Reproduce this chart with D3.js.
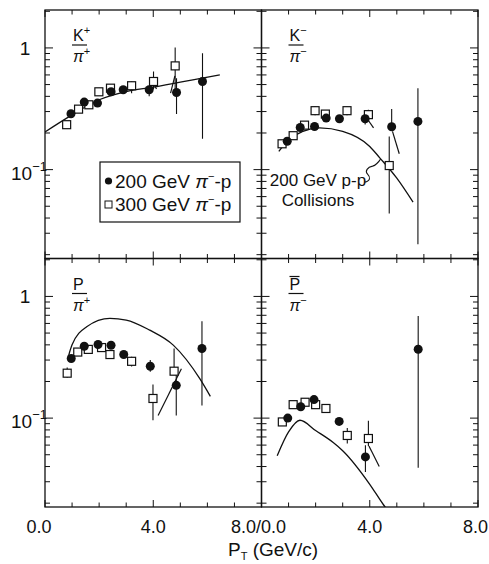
<!DOCTYPE html>
<html>
<head>
<meta charset="utf-8">
<script src="https://cdn.jsdelivr.net/npm/d3@7"></script>
<style>
  body { margin: 0; background: #fff; }
  svg { display: block; }
  text { font-family: "Liberation Sans", "Helvetica", sans-serif; fill: #111; }
</style>
</head>
<body>
<svg id="chart" width="489" height="564"></svg>
<script>
// data: [pT, ratio, errLow, errHigh]
const kPlusCircles = [[0.96,0.288],[1.45,0.359],[1.94,0.352],[2.44,0.436],[2.89,0.453],
  [3.85,0.453,0.40,0.49],[4.86,0.43,0.286,0.564],[5.82,0.53,0.179,0.904]];
const kPlusSquares = [[0.80,0.234],[1.24,0.314],[1.62,0.341],[1.99,0.436],[2.42,0.467],
  [3.20,0.489,0.425,0.53],[4.01,0.53,0.458,0.64],[4.81,0.712,0.438,1.006]];
const kPlusCurve = [[0,0.204],[1,0.282],[2,0.375],[3,0.438],[4,0.476],[5,0.523],[6.46,0.60]];
const kPlusSlashes = [[4.64,0.425,4.80,0.589],[3.95,0.54,4.12,0.46]];

const kMinusCircles = [[0.95,0.171],[1.43,0.222],[1.96,0.226],[2.39,0.265],[2.88,0.262],
  [3.83,0.262,0.235,0.30],[4.81,0.225,0.215,0.315],[5.78,0.249,0.0243,0.467]];
const kMinusSquares = [[0.76,0.163],[1.17,0.190],[1.59,0.232],[1.98,0.305,0.28,0.33],[2.36,0.286],
  [3.16,0.305,0.28,0.33],[3.95,0.283,0.25,0.31],[4.72,0.108,0.0436,0.187]];
const kMinusCurve = [[0.64,0.141],[1,0.176],[1.5,0.205],[2.15,0.22],[3,0.206],[4,0.155],[4.37,0.125],[5,0.085],[5.6,0.054]];
const kMinusSlashes = [[3.93,0.257,4.14,0.22],[4.84,0.206,5.09,0.135]];

const pCircles = [[0.97,0.309],[1.45,0.390],[1.96,0.403],[2.44,0.397],[2.91,0.333],
  [3.89,0.267,0.24,0.30],[4.85,0.186,0.105,0.255],[5.80,0.373,0.127,0.626]];
const pSquares = [[0.82,0.234,0.215,0.26],[1.21,0.349],[1.60,0.367],[2.09,0.38],[2.40,0.333],
  [3.20,0.293,0.265,0.32],[3.99,0.145,0.096,0.189],[4.77,0.243,0.243,0.373]];
const pCurve = [[0.86,0.319],[1.0,0.40],[1.54,0.563],[2.4,0.659],[3.0,0.64],[3.87,0.528],[4.74,0.398],[5.72,0.211],[6.11,0.151]];
const pSlashes = [[4.18,0.105,5.04,0.255]];

const pbarCircles = [[0.97,0.100],[1.45,0.124],[1.94,0.142,0.132,0.152],[2.87,0.094,0.088,0.10],
  [3.84,0.048,0.036,0.0597],[5.79,0.368,0.039,0.689]];
const pbarSquares = [[0.77,0.093],[1.17,0.129],[1.61,0.135],[2.0,0.129],[2.38,0.120],
  [3.17,0.072,0.062,0.083],[3.95,0.068,0.059,0.095]];
const pbarCurve = [[0.58,0.049],[1.0,0.077],[1.42,0.096],[2.0,0.079],[2.65,0.063],[3.0,0.054],[4.0,0.0286],[4.5,0.0195],[4.7,0.017]];
const pbarSlashes = [[3.97,0.059,4.35,0.040]];

const xDomain = [0, 8];
const yDomain = [0.0186, 2.05];
const legendLabels = ['200 GeV', '300 GeV'];

const panels = [
  {col: 0, row: 0, num: 'K', numSup: '+', den: '\u03c0', denSup: '+', circles: kPlusCircles, squares: kPlusSquares, curve: kPlusCurve, slashes: kPlusSlashes},
  {col: 1, row: 0, num: 'K', numSup: '\u2212', den: '\u03c0', denSup: '\u2212', circles: kMinusCircles, squares: kMinusSquares, curve: kMinusCurve, slashes: kMinusSlashes},
  {col: 0, row: 1, num: 'P', numSup: '', den: '\u03c0', denSup: '+', circles: pCircles, squares: pSquares, curve: pCurve, slashes: pSlashes},
  {col: 1, row: 1, num: 'P', numSup: '', bar: true, den: '\u03c0', denSup: '\u2212', circles: pbarCircles, squares: pbarSquares, curve: pbarCurve, slashes: pbarSlashes},
];

// layout
const colX = [45, 261.5];
const rowY = [10, 258.5];
const panelW = 216.5;
const panelH = 248.5;

const svg = d3.select('#chart');
svg.append('rect').attr('width', 489).attr('height', 564).attr('fill', '#fff');

panels.forEach((p, i) => {
  const x0 = colX[p.col], y0 = rowY[p.row];
  const x = d3.scaleLinear().domain(xDomain).range([x0, x0 + panelW]);
  const y = d3.scaleLog().domain(yDomain).range([y0 + panelH, y0]);
  const g = svg.append('g');

  g.append('clipPath').attr('id', 'clip' + i)
    .append('rect').attr('x', x0).attr('y', y0).attr('width', panelW).attr('height', panelH);

  // frame
  g.append('rect').attr('x', x0).attr('y', y0).attr('width', panelW).attr('height', panelH)
    .attr('fill', 'none').attr('stroke', '#111').attr('stroke-width', 1.3);

  // ticks, all pointing inward
  const xt = d3.range(0, 9);
  const major = v => v % 4 === 0;
  const yt = y.ticks();
  const isDecade = v => Math.abs(Math.log10(v) - Math.round(Math.log10(v))) < 1e-6;
  const tg = g.append('g').attr('stroke', '#111').attr('stroke-width', 1);
  xt.forEach(v => {
    const len = major(v) ? 7 : 4.5;
    tg.append('line').attr('x1', x(v)).attr('x2', x(v)).attr('y1', y0 + panelH).attr('y2', y0 + panelH - len);
    tg.append('line').attr('x1', x(v)).attr('x2', x(v)).attr('y1', y0).attr('y2', y0 + len);
  });
  yt.forEach(v => {
    const len = isDecade(v) ? 8 : 5;
    tg.append('line').attr('x1', x0).attr('x2', x0 + len).attr('y1', y(v)).attr('y2', y(v));
    tg.append('line').attr('x1', x0 + panelW).attr('x2', x0 + panelW - len).attr('y1', y(v)).attr('y2', y(v));
  });

  // y labels on the left column only
  if (p.col === 0) {
    g.append('text').attr('x', 25).attr('y', y(1) + 7).attr('text-anchor', 'middle')
      .attr('font-size', 19).text('1');
    const t = g.append('text').attr('x', 11).attr('y', y(0.1) + 10).attr('font-size', 19);
    t.append('tspan').text('10');
    t.append('tspan').attr('dy', -9).attr('font-size', 13).text('\u22121');
  }

  const plot = g.append('g').attr('clip-path', `url(#clip${i})`);

  // curve
  plot.append('path')
    .datum(p.curve)
    .attr('d', d3.line().x(d => x(d[0])).y(d => y(d[1])).curve(d3.curveMonotoneX))
    .attr('fill', 'none').attr('stroke', '#111').attr('stroke-width', 1.3);

  // slash marks
  plot.selectAll('.slash').data(p.slashes).join('line')
    .attr('x1', d => x(d[0])).attr('y1', d => y(d[1]))
    .attr('x2', d => x(d[2])).attr('y2', d => y(d[3]))
    .attr('stroke', '#111').attr('stroke-width', 1.2);

  // error bars
  const withErr = p.circles.concat(p.squares).filter(d => d.length > 2);
  plot.selectAll('.err').data(withErr).join('line')
    .attr('x1', d => x(d[0])).attr('x2', d => x(d[0]))
    .attr('y1', d => y(d[2])).attr('y2', d => y(d[3]))
    .attr('stroke', '#111').attr('stroke-width', 1.1);

  // markers
  plot.selectAll('.sq').data(p.squares).join('rect')
    .attr('x', d => x(d[0]) - 4).attr('y', d => y(d[1]) - 4)
    .attr('width', 8).attr('height', 8)
    .attr('fill', '#fff').attr('stroke', '#111').attr('stroke-width', 1.2);
  plot.selectAll('.ci').data(p.circles).join('circle')
    .attr('cx', d => x(d[0])).attr('cy', d => y(d[1])).attr('r', 4.5)
    .attr('fill', '#111');

  // panel label as a fraction
  const lx = x0 + 28, ly = y0;
  const num = g.append('text').attr('x', lx).attr('y', ly + 31).attr('font-size', 16);
  num.append('tspan').text(p.num);
  if (p.numSup) num.append('tspan').attr('dy', -7).attr('font-size', 11).text(p.numSup);
  if (p.bar) {
    g.append('line').attr('x1', lx).attr('x2', lx + 10).attr('y1', ly + 18).attr('y2', ly + 18)
      .attr('stroke', '#111').attr('stroke-width', 1.2);
  }
  g.append('line').attr('x1', lx - 1).attr('x2', lx + 14).attr('y1', ly + 35).attr('y2', ly + 35)
    .attr('stroke', '#111').attr('stroke-width', 1.2);
  const den = g.append('text').attr('x', lx).attr('y', ly + 52).attr('font-size', 16)
    .attr('font-style', 'italic');
  den.append('tspan').text(p.den);
  den.append('tspan').attr('dy', -7).attr('font-size', 11).attr('font-style', 'normal').text(p.denSup);

  // legend in the first panel
  if (i === 0) {
    const lg = g.append('g');
    lg.append('rect').attr('x', 100).attr('y', 162).attr('width', 140).attr('height', 60)
      .attr('fill', '#fff').attr('stroke', '#111').attr('stroke-width', 1.2);
    lg.append('circle').attr('cx', 108.5).attr('cy', 181).attr('r', 3.6).attr('fill', '#111');
    lg.append('rect').attr('x', 105).attr('y', 201).attr('width', 7).attr('height', 7)
      .attr('fill', '#fff').attr('stroke', '#111').attr('stroke-width', 1);
    legendLabels.forEach((l, k) => {
      const t = lg.append('text').attr('x', 115).attr('y', 188 + k * 23).attr('font-size', 19);
      t.append('tspan').text(l + ' ');
      t.append('tspan').attr('font-style', 'italic').text('\u03c0');
      t.append('tspan').attr('dy', -8).attr('font-size', 11).text('\u2212');
      t.append('tspan').attr('dy', 8).text('-p');
    });
  }

  // annotation in the K-/pi- panel
  if (i === 1) {
    g.append('text').attr('x', 318).attr('y', 186).attr('text-anchor', 'middle')
      .attr('font-size', 17).text('200 GeV p-p');
    g.append('text').attr('x', 318).attr('y', 206).attr('text-anchor', 'middle')
      .attr('font-size', 17).text('Collisions');
    const ex = x(4.4), ey = y(0.122);
    g.append('path')
      .attr('d', `M${ex - 16},${ey + 23} c6,-1 6,-5 3,-8 c-3,-3 0,-7 5,-8 c4,-1 6,-4 8,-7`)
      .attr('fill', 'none').attr('stroke', '#111').attr('stroke-width', 1.1);
  }
});

// x tick labels under the bottom row
const xLabelY = 533;
const xl = d3.scaleLinear().domain(xDomain).range([colX[0], colX[0] + panelW]);
const xr = d3.scaleLinear().domain(xDomain).range([colX[1], colX[1] + panelW]);
const xLabels = [
  {x: xl(0) - 6, t: '0.0'}, {x: xl(4), t: '4.0'}, {x: xl(8) - 3, t: '8.0/0.0'},
  {x: xr(4), t: '4.0'}, {x: xr(8) - 2.5, t: '8.0'}
];
svg.selectAll('.xlab').data(xLabels).join('text')
  .attr('x', d => d.x).attr('y', xLabelY).attr('text-anchor', 'middle')
  .attr('font-size', 18).text(d => d.t);

const xt = svg.append('text').attr('x', 228).attr('y', 556).attr('font-size', 19);
xt.append('tspan').text('P');
xt.append('tspan').attr('dy', 4).attr('font-size', 11).text('T');
xt.append('tspan').attr('dy', -4).text(' (GeV/c)');
</script>
</body>
</html>
